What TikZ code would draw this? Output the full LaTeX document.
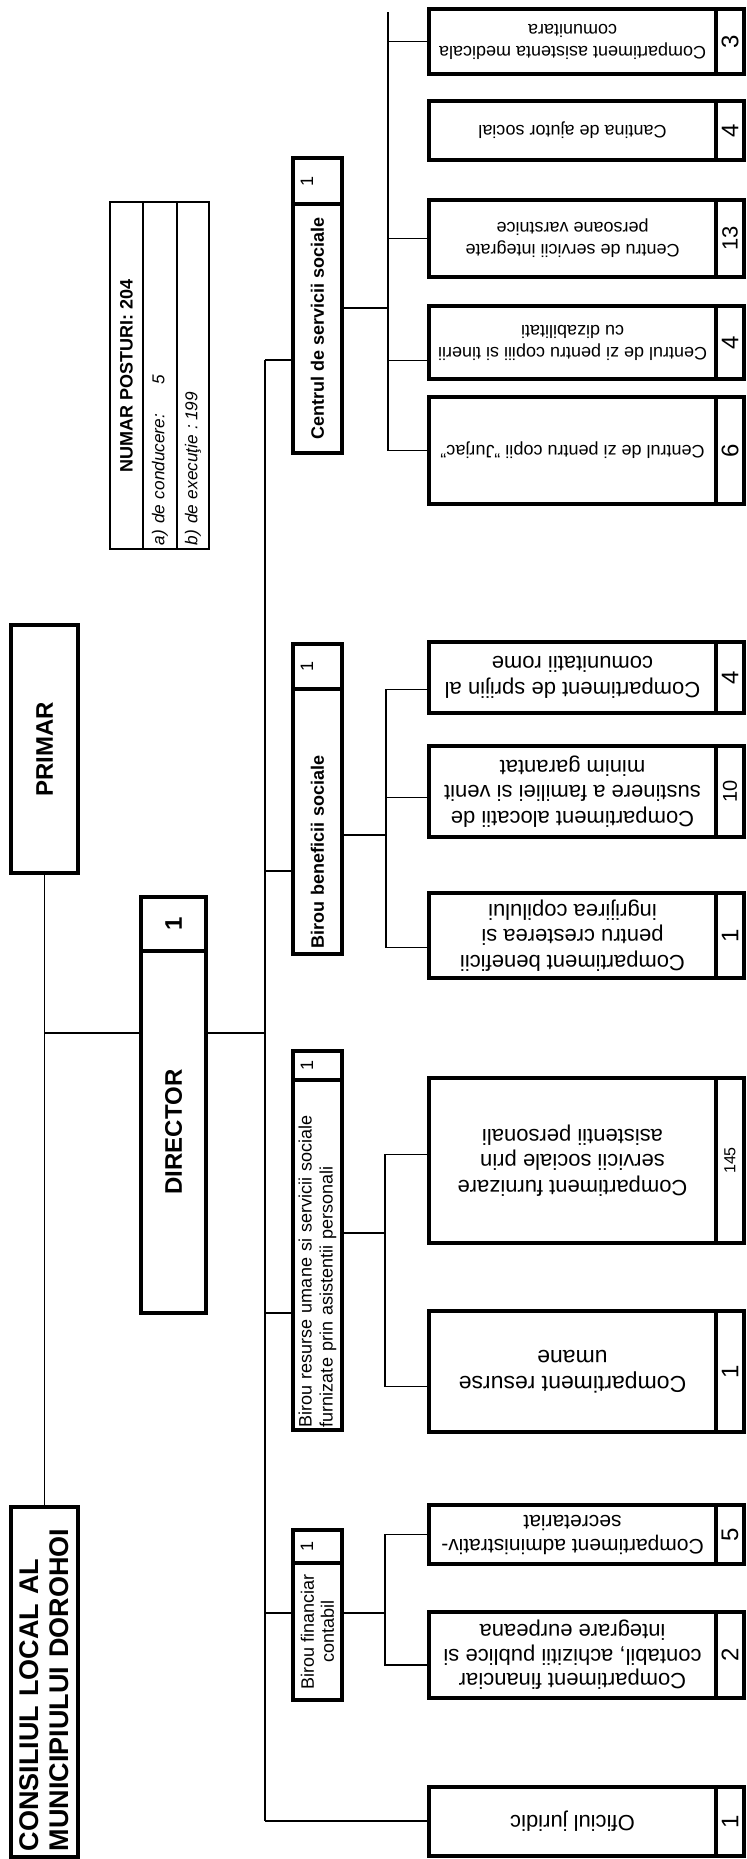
\documentclass[tikz,border=0pt]{standalone}
\usepackage{fontspec}
\setmainfont{Liberation Sans}

\begin{document}
\begin{tikzpicture}[x=0.5pt, y=-0.5pt,
        bx/.style={draw, line width=1.9pt, inner sep=1pt},
        head/.style={bx, rotate=90, minimum height=24.5pt, align=center},
        hnum/.style={bx, rotate=90, minimum height=24.5pt, text height=7pt, text depth=11.5pt,
                     font=\fontsize{9}{10}\selectfont},
        leaf/.style={bx, rotate=180, minimum width=143.5pt, align=center,
                     font=\fontsize{11}{12.8}\selectfont},
        sm/.style={font=\fontsize{9}{11}\selectfont},
        cnt/.style={bx, rotate=90, minimum height=14pt, font=\fontsize{12}{13}\selectfont},
        tcell/.style={draw, line width=1.1pt, rotate=90, minimum width=173.5pt, inner sep=2pt},
        conn/.style={line width=0.9pt},
        slim/.style={line width=0.65pt}
    ]
    \useasboundingbox (0,0) rectangle (746,1859);

    % --- top level ---
    \node[bx, rotate=90, minimum width=175pt, minimum height=33.5pt, text width=169pt, align=left,
          font=\bfseries\fontsize{13.5}{15}\selectfont] (cons) at (44.5,1682)
        {CONSILIUL LOCAL AL\\MUNICIPIULUI DOROHOI};
    \node[bx, rotate=90, minimum width=124pt, minimum height=33.5pt,
          font=\bfseries\fontsize{12}{14}\selectfont] (prim) at (44.5,749) {PRIMAR};
    \node[bx, rotate=90, minimum width=27pt, minimum height=32.5pt,
          font=\bfseries\fontsize{12}{14}\selectfont] (dirN) at (173.5,924) {1};
    \node[bx, rotate=90, minimum width=181pt, minimum height=32.5pt,
          font=\bfseries\fontsize{12}{14}\selectfont] (dir) at (173.5,1132) {DIRECTOR};

    % --- numar posturi ---
    \node[tcell, minimum height=16.5pt, font=\bfseries\fontsize{9}{10}\selectfont] (post)
        at (126.5,375.5) {NUMAR POSTURI: 204};
    \node[tcell, minimum height=17pt, text width=169.5pt, align=left,
          font=\itshape\fontsize{8.6}{10}\selectfont] (cond) at (160,375.5)
        {a) de conducere:\hspace{15pt}5};
    \node[tcell, minimum height=16pt, text width=169.5pt, align=left,
          font=\itshape\fontsize{8.6}{10}\selectfont] (exec) at (193,375.5)
        {b) de execuţie :\hspace{2pt}199};

    % --- birouri ---
    \node[hnum, minimum width=23pt] (csocN) at (317.5,181) {1};
    \node[head, minimum width=124.5pt, font=\bfseries\fontsize{9}{11}\selectfont] (csoc)
        at (317.5,328.5) {Centrul de servicii sociale};
    \node[hnum, minimum width=22.5pt] (bbenN) at (317.5,666.5) {1};
    \node[head, minimum width=132.5pt, text width=127pt, align=left,
          font=\bfseries\fontsize{9}{11}\selectfont] (bben) at (317.5,821.5) {Birou beneficii sociale};
    \node[hnum, minimum width=14.5pt] (bresN) at (317.5,1065.5) {1};
    \node[head, minimum width=175pt, text width=172pt, align=left, inner sep=0.5pt,
          font=\fontsize{9}{10.5}\selectfont] (bres) at (317.5,1255)
        {Birou resurse umane si servicii sociale\\furnizate prin asistentii personali};
    \node[hnum, minimum width=16.5pt] (bfinN) at (317.5,1546.5) {1};
    \node[head, minimum width=68.5pt, font=\fontsize{9}{10}\selectfont] (bfin)
        at (317.5,1631.5) {Birou financiar\\contabil};

    % --- compartimente ---
    \node[leaf, sm, minimum height=32.5pt] (asi) at (572.5,41.5)
        {Compartiment asistenta medicala\\comunitara};
    \node[cnt, minimum width=32.5pt] (asiN) at (730,41.5) {3};
    \node[leaf, sm, minimum height=29.5pt] (can) at (572.5,130.5) {Cantina de ajutor social};
    \node[cnt, minimum width=29.5pt] (canN) at (730,130.5) {4};
    \node[leaf, sm, minimum height=38.5pt] (integ) at (572.5,238.5)
        {Centru de servicii integrate\\persoane varstnice};
    \node[cnt, minimum width=38.5pt, font=\fontsize{11}{12}\selectfont] (integN) at (730,238.5) {13};
    \node[leaf, sm, minimum height=36.5pt] (tin) at (572.5,342.5)
        {Centrul de zi pentru copiii si tinerii\\cu dizabilitati};
    \node[cnt, minimum width=36.5pt] (tinN) at (730,342.5) {4};
    \node[leaf, sm, minimum height=53.5pt] (jur) at (572.5,450.5)
        {Centrul de zi pentru copii "Jurjac"};
    \node[cnt, minimum width=53.5pt] (jurN) at (730,450.5) {6};

    \node[leaf, minimum height=35.5pt] (spr) at (572.5,677.5)
        {Compartiment de sprijin al\\comunitatii rome};
    \node[cnt, minimum width=35.5pt] (sprN) at (730,677.5) {4};
    \node[leaf, minimum height=45.5pt] (alo) at (572.5,791.5)
        {Compartiment alocatii de\\sustinere a familiei si venit\\minim garantat};
    \node[cnt, minimum width=45.5pt, font=\fontsize{10}{11}\selectfont] (aloN) at (730,791.5) {10};
    \node[leaf, minimum height=42.5pt] (ben) at (572.5,935.5)
        {Compartiment beneficii\\pentru cresterea si\\ingrijirea copilului};
    \node[cnt, minimum width=42.5pt] (benN) at (730,935.5) {1};

    \node[leaf, minimum height=82.5pt] (fur) at (572.5,1160.5)
        {Compartiment furnizare\\servicii sociale prin\\asistentii personali};
    \node[cnt, minimum width=82.5pt, font=\fontsize{8}{9}\selectfont] (furN) at (730,1160.5) {145};
    \node[leaf, minimum height=60.5pt, font=\fontsize{11.5}{13}\selectfont] (res) at (572.5,1371.5)
        {Compartiment resurse\\umane};
    \node[cnt, minimum width=60.5pt] (resN) at (730,1371.5) {1};

    \node[leaf, minimum height=29.5pt, font=\fontsize{10.5}{12}\selectfont] (adm) at (572.5,1534.5)
        {Compartiment administrativ-\\secretariat};
    \node[cnt, minimum width=29.5pt] (admN) at (730,1534.5) {5};
    \node[leaf, minimum height=43pt, font=\fontsize{11}{12.3}\selectfont] (fin) at (572.5,1655)
        {Compartiment financiar\\contabil, achizitii publice si\\integrare eurpeana};
    \node[cnt, minimum width=43pt] (finN) at (730,1655) {2};

    \node[leaf, minimum height=34.5pt] (ofi) at (572.5,1821.5) {Oficiul juridic};
    \node[cnt, minimum width=34.5pt] (ofiN) at (730,1821.5) {1};

    % --- legaturi ---
    \coordinate (jCons) at (44.5,1033);
    \coordinate (jDir) at (265,1033);
    \coordinate (busT) at (265,360);
    \coordinate (busB) at (265,1821);
    \coordinate (jBen) at (265,871);
    \coordinate (jRes) at (265,1313);
    \coordinate (jFin) at (265,1613);
    \draw[slim] (prim.west) -- (cons.east);
    \draw[conn] (jCons) -- (jCons -| dir.north);
    \draw[conn] (jDir -| dir.south) -- (jDir);
    \draw[conn] (busT) -- (busB);
    \draw[conn] (busT) -- (busT -| csoc.north);
    \draw[conn] (jBen) -- (jBen -| bben.north);
    \draw[conn] (jRes) -- (jRes -| bres.north);
    \draw[conn] (jFin) -- (jFin -| bfin.north);
    \draw[conn] (busB) -- (busB -| ofi.east);

    % centrul de servicii sociale
    \coordinate (sbA) at (388,308);
    \coordinate (sbAtop) at (388,12);
    \draw[conn] (sbA -| csoc.south) -- (sbA);
    \draw[conn] (sbA) -- (sbAtop);
    \draw[conn] (sbA) |- (asi.east);
    \draw[conn] (sbA) |- (integ.east);
    \draw[conn] (sbA) |- ([yshift=-9pt]tin.east);
    \draw[conn] (sbA) |- (jur.east);

    % birou beneficii
    \coordinate (sbB) at (386,835);
    \draw[conn] (sbB -| bben.south) -- (sbB);
    \draw[conn] (sbB) |- ([yshift=-6pt]spr.east);
    \draw[conn] (sbB) |- ([yshift=-3pt]alo.east);
    \draw[conn] (sbB) |- ([yshift=-6pt]ben.east);

    % birou resurse
    \coordinate (sbC) at (385,1233);
    \draw[conn] (sbC -| bres.south) -- (sbC);
    \draw[conn] (sbC) |- ([yshift=3pt]fur.east);
    \draw[conn] (sbC) |- ([yshift=-7.5pt]res.east);

    % birou financiar
    \coordinate (sbD) at (385,1613);
    \draw[conn] (sbD -| bfin.south) -- (sbD);
    \draw[conn] (sbD) |- (adm.east);
    \draw[conn] (sbD) |- ([yshift=-5pt]fin.east);
\end{tikzpicture}
\end{document}
